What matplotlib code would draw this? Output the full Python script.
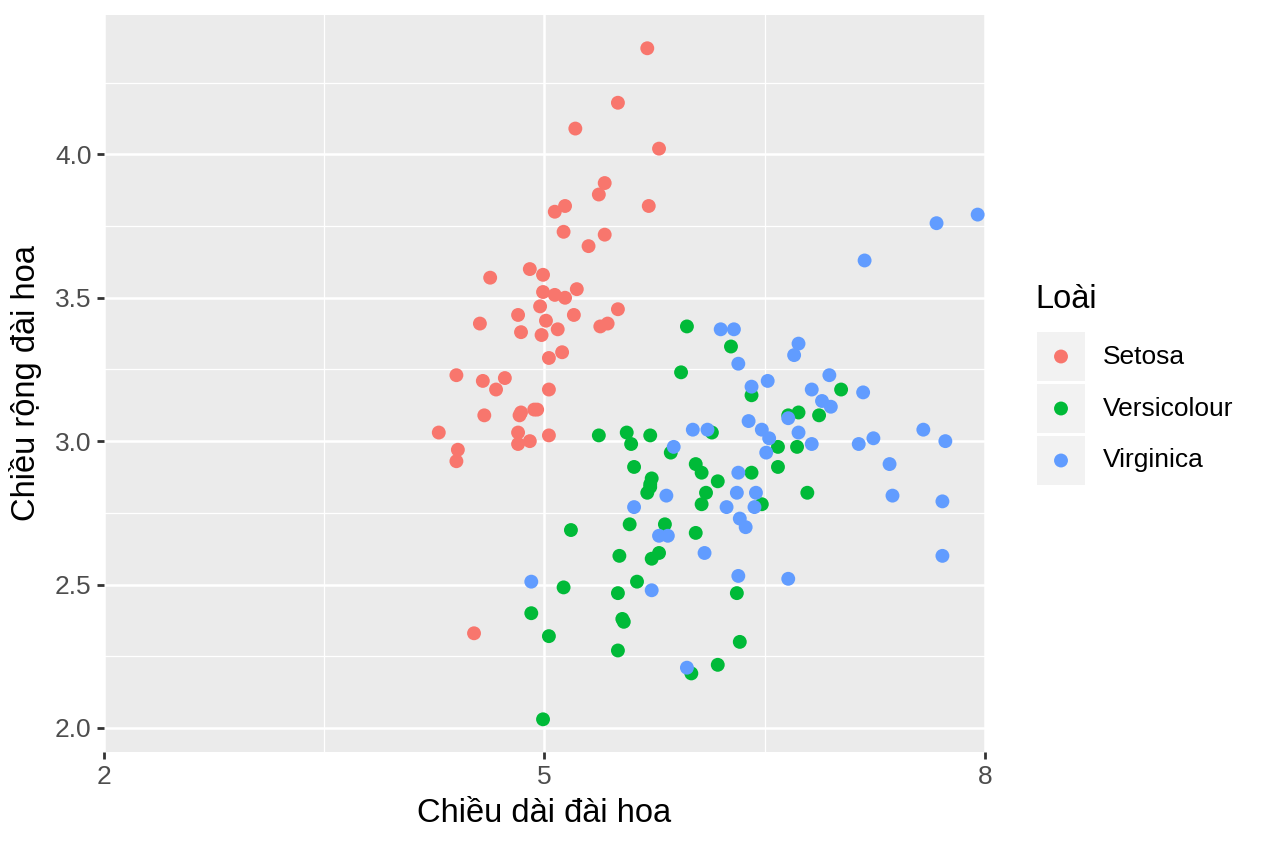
import matplotlib
matplotlib.use('Agg')
import matplotlib.pyplot as plt
from matplotlib.patches import Rectangle

plt.rcParams['font.family'] = ['Liberation Sans', 'DejaVu Sans']

species = ['Setosa', 'Versicolour', 'Virginica']
colors = ['#F8766D', '#00BA38', '#619CFF']

# jittered sepal length / width
setosa_x = [5.70, 5.50, 5.21, 5.78, 5.41, 5.37, 5.14, 5.07, 5.71, 5.13,
            5.41, 5.30, 4.63, 4.90, 4.99, 4.99, 5.07, 5.14, 5.22, 4.97,
            4.82, 5.01, 5.20, 4.56, 5.50, 5.43, 5.38, 4.84, 5.09, 4.98,
            5.12, 5.03, 4.40, 4.58, 4.73, 4.67, 5.03, 4.59, 4.83, 4.93,
            4.95, 4.28, 4.82, 4.82, 4.90, 5.03, 4.41, 4.40, 4.52, 4.84]
setosa_y = [4.37, 4.18, 4.09, 4.02, 3.90, 3.86, 3.82, 3.80, 3.82, 3.73,
            3.72, 3.68, 3.57, 3.60, 3.58, 3.52, 3.51, 3.50, 3.53, 3.47,
            3.44, 3.42, 3.44, 3.41, 3.46, 3.41, 3.40, 3.38, 3.39, 3.37,
            3.31, 3.29, 3.23, 3.21, 3.22, 3.18, 3.18, 3.09, 3.09, 3.11,
            3.11, 3.03, 3.03, 2.99, 3.00, 3.02, 2.97, 2.93, 2.33, 3.10]

versicolour_x = [5.37, 5.56, 5.59, 5.61, 5.58, 5.18, 5.51, 5.13, 5.50, 5.63,
                 4.91, 5.53, 5.54, 5.03, 5.50, 4.99, 5.97, 6.27, 5.93, 6.41,
                 6.66, 6.59, 6.59, 5.72, 6.14, 5.86, 6.03, 6.07, 6.18, 6.41,
                 5.73, 5.72, 5.70, 6.10, 6.07, 6.48, 5.82, 6.03, 5.73, 5.78,
                 6.31, 6.33, 6.18, 6.00, 7.02, 6.73, 6.87, 6.72, 6.79, 5.72]
versicolour_y = [3.02, 3.03, 2.99, 2.91, 2.71, 2.69, 2.60, 2.49, 2.47, 2.51,
                 2.40, 2.38, 2.37, 2.32, 2.27, 2.03, 3.40, 3.33, 3.24, 3.16,
                 3.09, 2.98, 2.91, 3.02, 3.03, 2.96, 2.92, 2.89, 2.86, 2.89,
                 2.87, 2.85, 2.82, 2.82, 2.78, 2.78, 2.71, 2.68, 2.59, 2.61,
                 2.47, 2.30, 2.22, 2.19, 3.18, 3.10, 3.09, 2.98, 2.82, 2.84]

virginica_x = [5.61, 4.91, 6.20, 6.29, 6.32, 6.41, 6.52, 6.73, 6.70, 6.39,
               6.66, 6.48, 6.53, 6.51, 6.01, 6.11, 5.88, 6.32, 5.83, 6.31,
               6.44, 6.24, 6.43, 6.33, 6.37, 5.78, 5.84, 6.09, 5.73, 6.32,
               6.66, 5.97, 7.67, 7.95, 7.18, 6.94, 6.82, 7.17, 6.89, 6.95,
               6.73, 7.58, 7.73, 7.24, 7.14, 6.82, 7.35, 7.37, 7.71, 7.71]
virginica_y = [2.77, 2.51, 3.39, 3.39, 3.27, 3.19, 3.21, 3.34, 3.30, 3.07,
               3.08, 3.04, 3.01, 2.96, 3.04, 3.04, 2.98, 2.89, 2.81, 2.82,
               2.82, 2.77, 2.77, 2.73, 2.70, 2.67, 2.67, 2.61, 2.48, 2.53,
               2.52, 2.21, 3.76, 3.79, 3.63, 3.23, 3.18, 3.17, 3.14, 3.12,
               3.03, 3.04, 3.00, 3.01, 2.99, 2.99, 2.92, 2.81, 2.79, 2.60]

x_ticks = [2, 5, 8]
y_ticks = [2.0, 2.5, 3.0, 3.5, 4.0]

fig = plt.figure(figsize=(12.64, 8.48), dpi=100)
ax = fig.add_axes([104 / 1264, 1 - 752 / 848, 881 / 1264, 737 / 848])
ax.set_facecolor('#EBEBEB')
for s in ax.spines.values():
    s.set_visible(False)

ax.set_xticks([3.5, 6.5], minor=True)
ax.set_yticks([2.25, 2.75, 3.25, 3.75, 4.25], minor=True)
ax.grid(which='major', color='white', linewidth=1.8)
ax.grid(which='minor', color='white', linewidth=0.9)
ax.set_axisbelow(True)

all_x = [setosa_x, versicolour_x, virginica_x]
all_y = [setosa_y, versicolour_y, virginica_y]
for xs, ys, c in zip(all_x, all_y, colors):
    ax.scatter(xs, ys, s=100, color=c, edgecolors='none', zorder=3)

ax.set_xlim(2, 8)
ax.set_ylim(1.916, 4.486)
ax.set_xticks(x_ticks)
ax.set_xticklabels([str(t) for t in x_ticks])
ax.set_yticks(y_ticks)
ax.set_yticklabels(['%.1f' % t for t in y_ticks])
ax.tick_params(which='major', length=5, width=2, color='#333333',
               labelcolor='#4D4D4D', labelsize=19, pad=4)
ax.tick_params(which='minor', length=0)

ax.set_xlabel('Chiều dài đài hoa', fontsize=23.5, color='black', labelpad=7)
ax.set_ylabel('Chiều rộng đài hoa', fontsize=23.5, color='black', labelpad=9)

# legend drawn by hand, ggplot style
lg = fig.add_axes([0, 0, 1, 1], zorder=5)
lg.set_xlim(0, 1264)
lg.set_ylim(848, 0)
lg.axis('off')
lg.text(1035, 299, 'Loài', fontsize=23.5, va='center', ha='left')
for i, (name, c) in enumerate(zip(species, colors)):
    top = 332 + i * 52
    lg.add_patch(Rectangle((1037, top), 48, 49, facecolor='#F2F2F2',
                           edgecolor='none'))
    lg.scatter([1061], [top + 24.5], s=100, color=c, edgecolors='none')
    lg.text(1103, top + 24.5, name, fontsize=19, va='center', ha='left')

fig.savefig('out.png', dpi=100, facecolor='white')
